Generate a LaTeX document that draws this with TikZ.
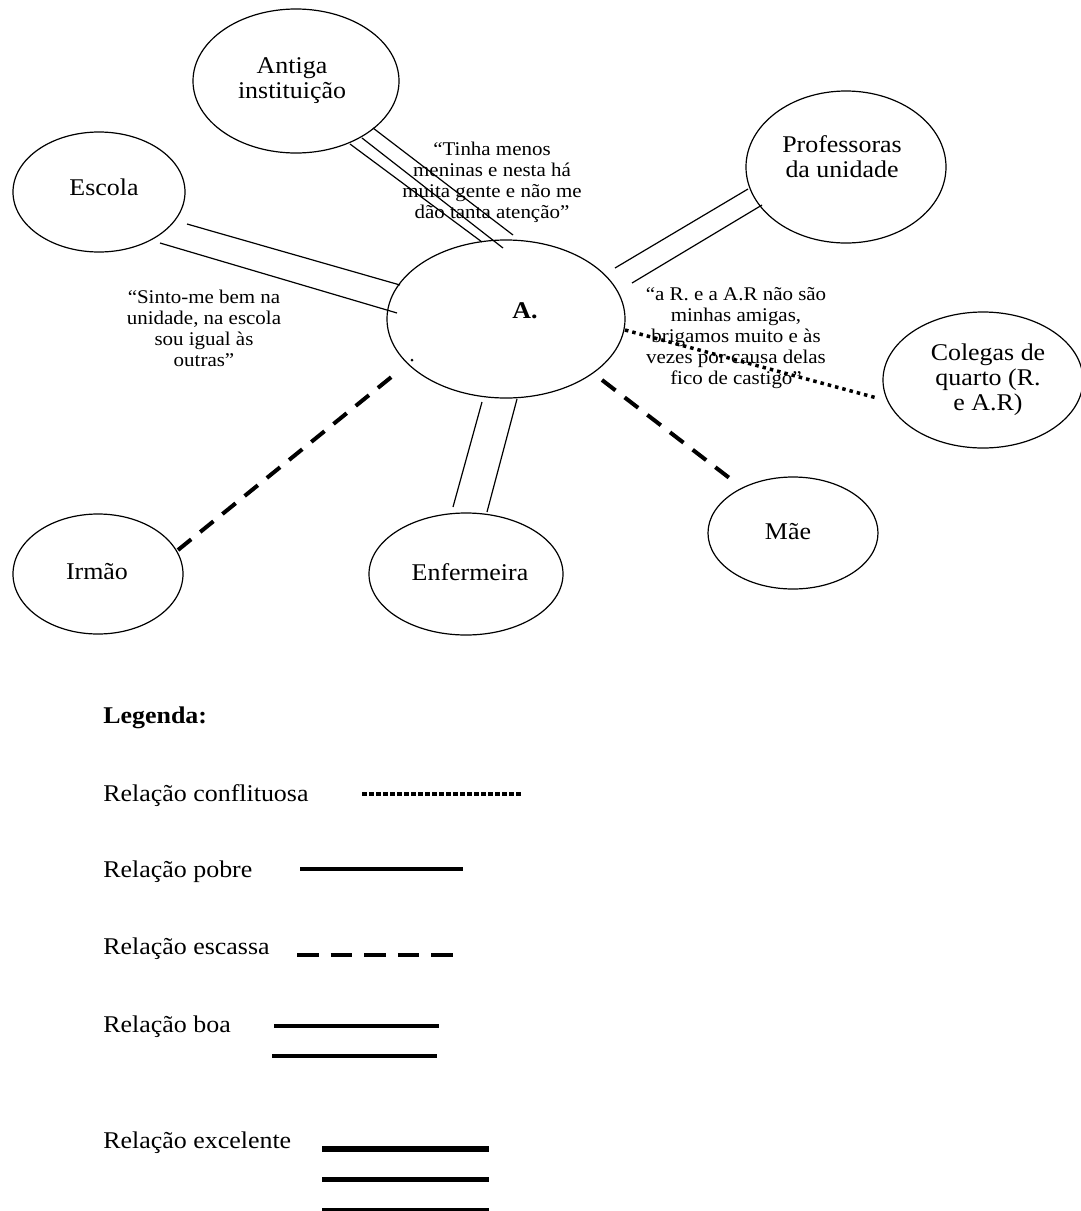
\documentclass[tikz,border=0pt]{standalone}
\usepackage{fontspec}
\setmainfont{Liberation Serif}[FakeStretch=1.08]
\usetikzlibrary{shapes.geometric,calc}
\begin{document}
\begin{tikzpicture}[x=0.5pt,y=-0.5pt,
  circ/.style={draw, ellipse, line width=0.6pt, inner sep=0pt},
  lbl/.style={inner sep=0pt, align=center, font=\fontsize{12}{12.5}\selectfont},
  quotetxt/.style={inner sep=0pt, align=center, font=\fontsize{9.7}{10.5}\selectfont},
  thinrel/.style={line width=0.6pt},
  scarce/.style={line width=2pt, dash pattern=on 8.5pt off 5.8pt},
  conflict/.style={line width=1.75pt, dash pattern=on 1.75pt off 2pt},
  leg/.style={anchor=west, inner sep=0pt, font=\fontsize{12}{14}\selectfont},
]
\useasboundingbox (0,0) rectangle (1081,1211);

% ellipses
\node[circ, minimum width=103pt, minimum height=72pt] (ant) at (296,81) {};
\node[circ, minimum width=86pt, minimum height=60pt] (esc) at (99,192) {};
\node[circ, minimum width=100pt, minimum height=76pt] (prof) at (846,167) {};
\node[circ, minimum width=119pt, minimum height=79pt] (a) at (506,319) {};
\node[circ, minimum width=100pt, minimum height=68pt] (col) at (983,380) {};
\node[circ, minimum width=85pt, minimum height=56pt] (mae) at (793,533) {};
\node[circ, minimum width=97pt, minimum height=61pt] (enf) at (466,574) {};
\node[circ, minimum width=85pt, minimum height=60pt] (irm) at (98,574) {};

% labels
\node[lbl] (antT) at (292,81) {Antiga\\instituição};
\node[lbl] (escT) at (104,187) {Escola};
\node[lbl] (profT) at (842,157) {Professoras\\da unidade};
\node[lbl, font=\bfseries\fontsize{12}{12.5}\selectfont] (aT) at (525,311) {A.};
\node[lbl] (colT) at (988,380) {Colegas de\\quarto (R.\\e A.R)};
\node[lbl] (maeT) at (788,532) {Mãe};
\node[lbl] (enfT) at (470,572) {Enfermeira};
\node[lbl] (irmT) at (97,572) {Irmão};

% quotes
\node[quotetxt] (q1) at (492,182) {“Tinha menos\\meninas e nesta há\\muita gente e não me\\dão tanta atenção”};
\node[quotetxt] (q2) at (204,328) {“Sinto-me bem na\\unidade, na escola\\sou igual às\\outras”};
\node[quotetxt] (q3) at (736,338) {“a R. e a A.R não são\\minhas amigas,\\brigamos muito e às\\vezes por causa delas\\fico de castigo”};

% connectors
\draw[thinrel] ($(ant)+(54,63)$) -- ($(a)+(-24,-77)$);
\draw[thinrel] ($(ant)+(66,57)$) -- ($(a)+(-3,-71)$);
\draw[thinrel] ($(ant)+(77,47)$) -- ($(a)+(7,-84)$);

\draw[thinrel] ($(esc)+(88,32)$) -- ($(a)+(-106,-34)$);
\draw[thinrel] ($(esc)+(61,51)$) -- ($(a)+(-109,-6)$);

\draw[thinrel] ($(a)+(109,-51)$) -- ($(prof)+(-98,22)$);
\draw[thinrel] ($(a)+(126,-36)$) -- ($(prof)+(-84,38)$);

\draw[thinrel] ($(a)+(-24,83)$) -- ($(enf)+(-13,-67)$);
\draw[thinrel] ($(a)+(11,80)$) -- ($(enf)+(21,-62)$);

\draw[scarce] ($(irm)+(80,-24)$) -- ($(a)+(-106,51)$);
\draw[scarce] ($(a)+(96,61)$) -- ($(mae)+(-61,-53)$);
\draw[conflict] ($(a)+(119,11)$) -- ($(col)+(-106,18)$);
\fill ($(a)+(-94,41)$) circle (1.5);

% legend
\node[leg] (legT) at (103,718) {\bfseries Legenda:};
\node[leg] (l1) at (103,796) {Relação conflituosa};
\node[leg] (l2) at (103,872) {Relação pobre};
\node[leg] (l3) at (103,949) {Relação escassa};
\node[leg] (l4) at (103,1027) {Relação boa};
\node[leg] (l5) at (103,1143) {Relação excelente};

\draw[line width=2pt, dash pattern=on 2.5pt off 1pt] (362,794) -- (523,794);
\draw[line width=2pt] (300,869) -- (463,869);
\draw[line width=2pt, dash pattern=on 10.8pt off 6pt] (297,955) -- (453,955);
\draw[line width=2.2pt] (274,1026) -- (439,1026);
\draw[line width=2.2pt] (272,1056) -- (437,1056);
\draw[line width=3pt] (322,1149) -- (489,1149);
\draw[line width=2.5pt] (322,1179) -- (489,1179);
\draw[line width=2.5pt] (322,1210) -- (489,1210);
\end{tikzpicture}
\end{document}
